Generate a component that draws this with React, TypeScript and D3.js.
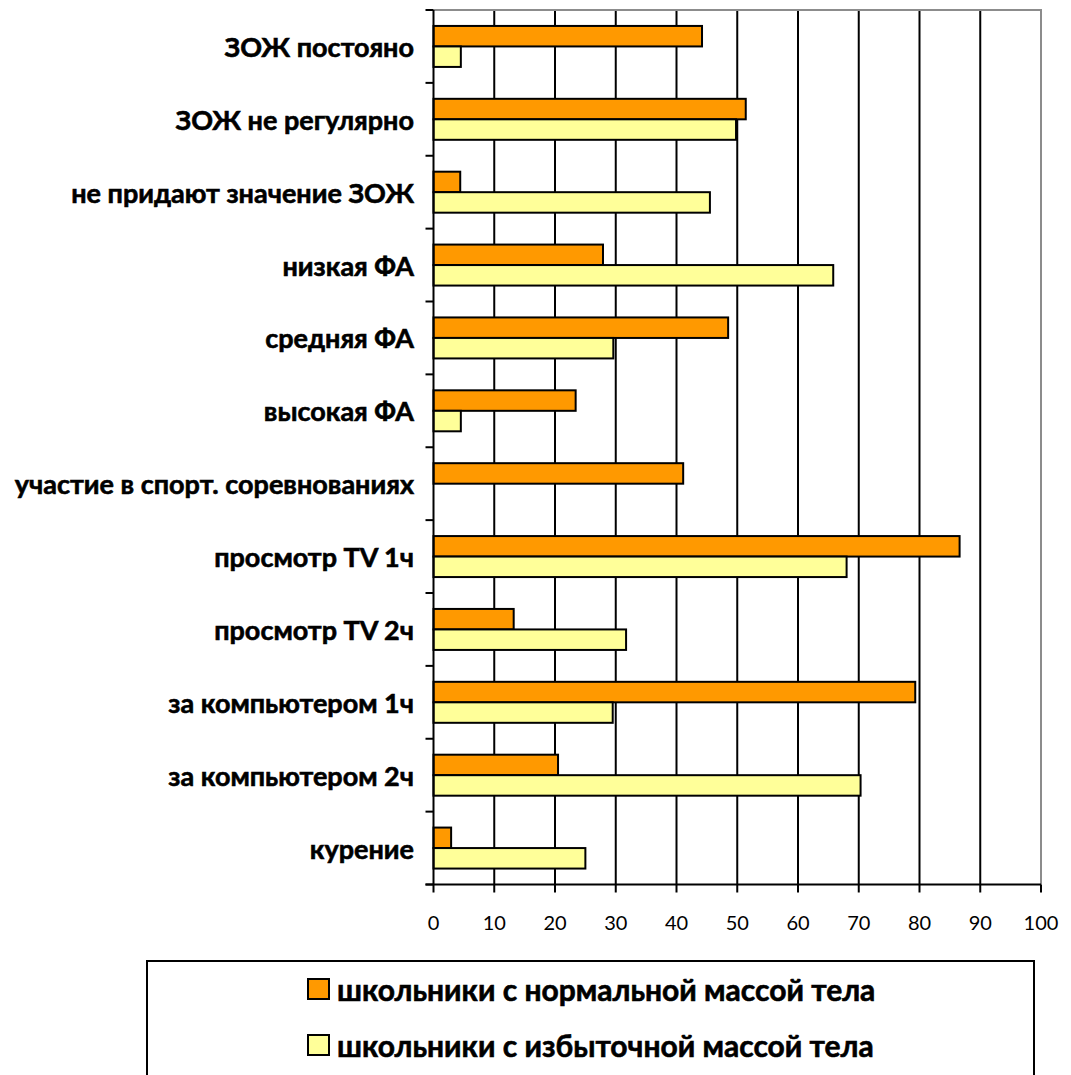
import React from "react";
import * as d3 from "d3";

// Survey categories, top to bottom
const categories: string[] = [
  "ЗОЖ постояно",
  "ЗОЖ не регулярно",
  "не придают значение ЗОЖ",
  "низкая ФА",
  "средняя ФА",
  "высокая ФА",
  "участие в спорт. соревнованиях",
  "просмотр TV 1ч",
  "просмотр TV 2ч",
  "за компьютером 1ч",
  "за компьютером 2ч",
  "курение",
];

// Percent of pupils in each group
const normalWeight: number[] = [44.2, 51.4, 4.4, 27.9, 48.5, 23.4, 41.1, 86.6, 13.2, 79.3, 20.5, 2.9];
const overWeight: number[] = [4.5, 49.8, 45.5, 65.8, 29.6, 4.5, 0, 68.0, 31.7, 29.5, 70.3, 25.0];

const seriesNames: string[] = [
  "школьники с нормальной массой тела",
  "школьники с избыточной массой тела",
];
const seriesColors: string[] = ["#FF9900", "#FFFF99"];

const xTicks: number[] = [0, 10, 20, 30, 40, 50, 60, 70, 80, 90, 100];

const W = 1071;
const H = 1075;
const plot = { left: 433.5, right: 1041, top: 10, bottom: 884.5 };
const FONT = "Lato, 'Open Sans', sans-serif";

export default function App() {
  const x = d3.scaleLinear().domain([0, 100]).range([plot.left, plot.right]);
  const y = d3
    .scaleBand<string>()
    .domain(categories)
    .range([plot.top, plot.bottom])
    .paddingInner(0.4376)
    .paddingOuter(0.2188);
  const series = [normalWeight, overWeight];
  const inner = d3
    .scaleBand<number>()
    .domain([0, 1])
    .range([0, y.bandwidth()]);
  const step = y.step();
  const boundaries = d3.range(categories.length + 1).map((i) => plot.top + i * step);

  return (
    <svg
      width={W}
      height={H}
      style={{ position: "absolute", left: 0, top: 0, background: "#fff" }}
      fontFamily={FONT}
    >
      <rect x={0} y={0} width={W} height={H} fill="#fff" />

      {/* vertical gridlines */}
      {xTicks.slice(1, -1).map((t) => (
        <line key={"g" + t} x1={x(t)} x2={x(t)} y1={plot.top} y2={plot.bottom} stroke="#000" strokeWidth={2} />
      ))}
      {/* plot area border: top and right */}
      <path
        d={`M${plot.left},${plot.top}H${plot.right}V${plot.bottom}`}
        fill="none"
        stroke="#8c8c8c"
        strokeWidth={2}
      />

      {/* bars */}
      {categories.map((c, i) => (
        <g key={c}>
          {series.map((s, k) =>
            s[i] > 0 ? (
              <rect
                key={k}
                x={x(0)}
                y={(y(c) as number) + (inner(k) as number)}
                width={x(s[i]) - x(0)}
                height={inner.bandwidth()}
                fill={seriesColors[k]}
                stroke="#000"
                strokeWidth={2}
              />
            ) : null
          )}
        </g>
      ))}

      {/* category axis */}
      <line x1={plot.left} x2={plot.left} y1={plot.top} y2={plot.bottom} stroke="#000" strokeWidth={2} />
      {boundaries.map((b, i) => (
        <line key={"yt" + i} x1={plot.left - 8} x2={plot.left} y1={b} y2={b} stroke="#000" strokeWidth={2} />
      ))}
      {categories.map((c) => (
        <text
          key={"l" + c}
          x={414}
          y={(y(c) as number) + y.bandwidth() / 2}
          textAnchor="end"
          dominantBaseline="central"
          fontWeight="bold"
          fontSize={27}
          fill="#000"
          stroke="#000"
          strokeWidth={0.6}
        >
          {c}
        </text>
      ))}

      {/* value axis */}
      <line x1={plot.left - 8} x2={plot.right} y1={plot.bottom} y2={plot.bottom} stroke="#000" strokeWidth={2} />
      {xTicks.map((t) => (
        <g key={"xt" + t}>
          <line x1={x(t)} x2={x(t)} y1={plot.bottom} y2={plot.bottom + 8} stroke="#000" strokeWidth={2} />
          <text x={x(t)} y={930} textAnchor="middle" fontSize={20} fill="#000">
            {t}
          </text>
        </g>
      ))}

      {/* legend */}
      <rect x={147} y={961} width={887} height={130} fill="#fff" stroke="#000" strokeWidth={2} />
      {seriesNames.map((n, k) => (
        <g key={n} transform={`translate(308,${979 + k * 56})`}>
          <rect x={0} y={0} width={21} height={20} fill={seriesColors[k]} stroke="#000" strokeWidth={2} />
          <text
            x={29}
            y={10}
            dominantBaseline="central"
            fontWeight="bold"
            fontSize={30}
            fill="#000"
            stroke="#000"
            strokeWidth={0.6}
          >
            {n}
          </text>
        </g>
      ))}
    </svg>
  );
}
